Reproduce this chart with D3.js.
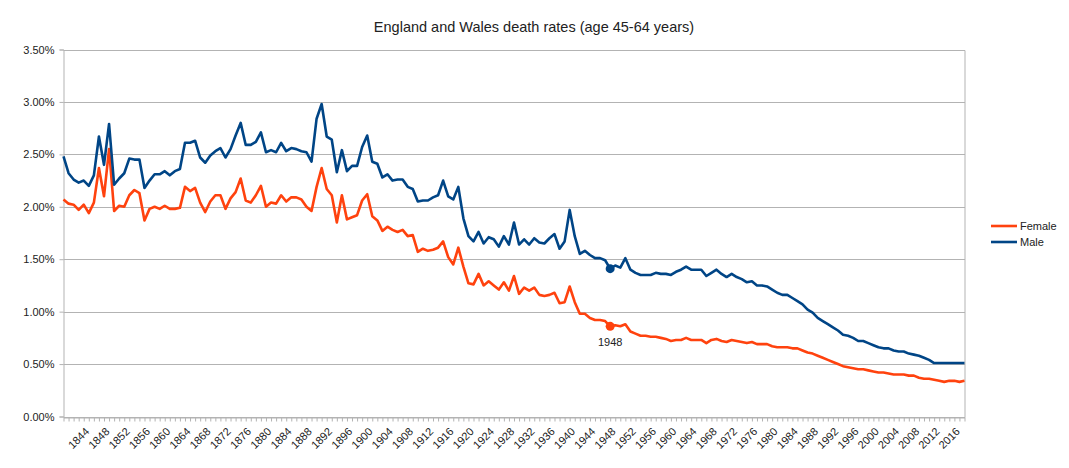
<!DOCTYPE html>
<html>
<head>
<meta charset="utf-8">
<script src="https://cdn.jsdelivr.net/npm/d3@7"></script>
<style>
  body { margin: 0; background: #fff; }
  svg { font-family: "Liberation Sans", Arial, sans-serif; }
</style>
</head>
<body>
<svg id="chart" width="1069" height="468"></svg>
<script>
const title = "England and Wales death rates (age 45-64 years)";
const firstYear = 1840;
const lastYear = 2018;
const years = d3.range(firstYear, lastYear + 1);
const firstLabelYear = 1844;
const labelStep = 4;
const yTicks = [0, 0.5, 1.0, 1.5, 2.0, 2.5, 3.0, 3.5];
const markYear = 1948;

// death rate, % (male), one row per decade from 1840
const male = [
  2.48, 2.32, 2.26, 2.23, 2.25, 2.20, 2.30, 2.67, 2.40, 2.79,
  2.21, 2.27, 2.32, 2.46, 2.45, 2.45, 2.18, 2.25, 2.31, 2.31,
  2.34, 2.30, 2.34, 2.36, 2.61, 2.61, 2.63, 2.47, 2.42, 2.49,
  2.53, 2.56, 2.47, 2.55, 2.68, 2.80, 2.59, 2.59, 2.62, 2.71,
  2.52, 2.54, 2.52, 2.61, 2.53, 2.56, 2.55, 2.53, 2.52, 2.43,
  2.84, 2.98, 2.67, 2.64, 2.33, 2.54, 2.34, 2.39, 2.39, 2.57,
  2.68, 2.43, 2.41, 2.28, 2.31, 2.25, 2.26, 2.26, 2.19, 2.17,
  2.05, 2.06, 2.06, 2.09, 2.11, 2.25, 2.10, 2.07, 2.19, 1.89,
  1.72, 1.67, 1.76, 1.65, 1.71, 1.69, 1.62, 1.72, 1.64, 1.85,
  1.64, 1.69, 1.64, 1.70, 1.66, 1.65, 1.70, 1.74, 1.60, 1.67,
  1.97, 1.72, 1.55, 1.58, 1.54, 1.51, 1.51, 1.49, 1.41, 1.44,
  1.42, 1.51, 1.40, 1.37, 1.35, 1.35, 1.35, 1.37, 1.36, 1.36,
  1.35, 1.38, 1.40, 1.43, 1.40, 1.40, 1.40, 1.34, 1.37, 1.40,
  1.36, 1.33, 1.36, 1.33, 1.31, 1.28, 1.29, 1.25, 1.25, 1.24,
  1.21, 1.18, 1.16, 1.16, 1.13, 1.10, 1.07, 1.02, 0.99, 0.94,
  0.91, 0.88, 0.85, 0.82, 0.78, 0.77, 0.75, 0.72, 0.72, 0.70,
  0.68, 0.66, 0.65, 0.65, 0.63, 0.62, 0.62, 0.60, 0.59, 0.58,
  0.56, 0.54, 0.51, 0.51, 0.51, 0.51, 0.51, 0.51, 0.51
];

// death rate, % (female), one row per decade from 1840
const female = [
  2.07, 2.03, 2.02, 1.97, 2.02, 1.94, 2.04, 2.37, 2.10, 2.55,
  1.96, 2.01, 2.00, 2.11, 2.16, 2.13, 1.87, 1.98, 2.00, 1.98,
  2.01, 1.98, 1.98, 1.99, 2.19, 2.15, 2.18, 2.04, 1.95, 2.05,
  2.11, 2.11, 1.98, 2.08, 2.14, 2.27, 2.06, 2.04, 2.11, 2.20,
  2.00, 2.04, 2.03, 2.11, 2.05, 2.09, 2.09, 2.07, 2.00, 1.96,
  2.19, 2.37, 2.17, 2.11, 1.85, 2.11, 1.88, 1.90, 1.92, 2.06,
  2.12, 1.91, 1.87, 1.77, 1.81, 1.78, 1.76, 1.78, 1.72, 1.73,
  1.57, 1.60, 1.58, 1.59, 1.61, 1.67, 1.52, 1.45, 1.61, 1.43,
  1.27, 1.26, 1.36, 1.25, 1.29, 1.25, 1.21, 1.28, 1.20, 1.34,
  1.17, 1.23, 1.20, 1.23, 1.16, 1.15, 1.16, 1.18, 1.08, 1.09,
  1.24, 1.09, 0.98, 0.98, 0.94, 0.92, 0.92, 0.91, 0.86, 0.87,
  0.86, 0.88, 0.81, 0.79, 0.77, 0.77, 0.76, 0.76, 0.75, 0.74,
  0.72, 0.73, 0.73, 0.75, 0.73, 0.73, 0.73, 0.70, 0.73, 0.74,
  0.72, 0.71, 0.73, 0.72, 0.71, 0.70, 0.71, 0.69, 0.69, 0.69,
  0.67, 0.66, 0.66, 0.66, 0.65, 0.65, 0.63, 0.61, 0.60, 0.58,
  0.56, 0.54, 0.52, 0.50, 0.48, 0.47, 0.46, 0.45, 0.45, 0.44,
  0.43, 0.42, 0.42, 0.41, 0.40, 0.40, 0.40, 0.39, 0.39, 0.37,
  0.36, 0.36, 0.35, 0.34, 0.33, 0.34, 0.34, 0.33, 0.34
];

const seriesNames = ["Female", "Male"];
const seriesColors = ["#ff420e", "#004586"];
const seriesData = [female, male];

const svg = d3.select("#chart");
const plotLeft = 63.5, plotRight = 964.5, plotTop = 49.5, plotBottom = 416.5;
const gridColor = "#b3b3b3";
const textColor = "#222";

const x = d3.scalePoint().domain(years).range([plotLeft, plotRight]);
const y = d3.scaleLinear().domain([0, 3.5]).range([plotBottom, plotTop]);

// gridlines
svg.append("g").selectAll("line").data(yTicks).join("line")
  .attr("x1", plotLeft).attr("x2", plotRight + 0.5)
  .attr("y1", d => Math.round(y(d)) + 0.5).attr("y2", d => Math.round(y(d)) + 0.5)
  .attr("stroke", gridColor).attr("stroke-width", 1);

// right border of plot
svg.append("line").attr("x1", plotRight + 0.5).attr("x2", plotRight + 0.5)
  .attr("y1", Math.round(y(3.5)) + 0.5).attr("y2", Math.round(y(0)) + 0.5)
  .attr("stroke", gridColor);

// y axis
const yAxis = svg.append("g").attr("transform", `translate(${plotLeft},0)`)
  .call(d3.axisLeft(y).tickValues(yTicks).tickSize(4).tickPadding(5)
        .tickFormat(d => d.toFixed(2) + "%"));
yAxis.selectAll("path").attr("stroke", gridColor);
yAxis.selectAll("line").attr("stroke", gridColor);
yAxis.selectAll("text").attr("font-size", 11).attr("fill", textColor)
  .attr("font-family", "Liberation Sans, Arial, sans-serif");

// x axis
const xAxis = svg.append("g").attr("transform", `translate(0,${Math.round(y(0)) + 0.5})`)
  .call(d3.axisBottom(x).tickValues(years).tickSize(4).tickSizeOuter(0)
        .tickFormat(d => (d >= firstLabelYear && (d - firstLabelYear) % labelStep === 0 ? String(d) : "")));
xAxis.selectAll("path").attr("stroke", gridColor);
xAxis.selectAll("line").attr("stroke", gridColor);
xAxis.selectAll("text")
  .attr("font-size", 11).attr("fill", textColor)
  .attr("font-family", "Liberation Sans, Arial, sans-serif")
  .attr("x", 0).attr("y", 0).attr("dy", "0.35em")
  .attr("text-anchor", "end")
  .attr("transform", "translate(3,12) rotate(-45)");

// lines
const line = d3.line().x((d, i) => x(years[i])).y(d => y(d));
seriesData.forEach((vals, k) => {
  svg.append("path").datum(vals)
    .attr("d", line)
    .attr("fill", "none")
    .attr("stroke", seriesColors[k])
    .attr("stroke-width", 2.6)
    .attr("stroke-linejoin", "round");
  const idx = years.indexOf(markYear);
  svg.append("circle")
    .attr("cx", x(markYear)).attr("cy", y(vals[idx])).attr("r", 4.5)
    .attr("fill", seriesColors[k]);
});

// 1948 label under female marker
svg.append("text")
  .attr("x", x(markYear)).attr("y", y(female[years.indexOf(markYear)]) + 20)
  .attr("text-anchor", "middle").attr("font-size", 11).attr("fill", textColor)
  .text(String(markYear));

// title
svg.append("text").attr("x", 534).attr("y", 32).attr("text-anchor", "middle")
  .attr("font-size", 14.5).attr("fill", textColor).text(title);

// legend
const legend = svg.append("g");
seriesNames.forEach((name, k) => {
  const ly = 226 + k * 16;
  legend.append("line").attr("x1", 991).attr("x2", 1017).attr("y1", ly).attr("y2", ly)
    .attr("stroke", seriesColors[k]).attr("stroke-width", 2.6);
  legend.append("text").attr("x", 1020).attr("y", ly).attr("dy", "0.35em")
    .attr("font-size", 11).attr("fill", textColor).text(name);
});
</script>
</body>
</html>
